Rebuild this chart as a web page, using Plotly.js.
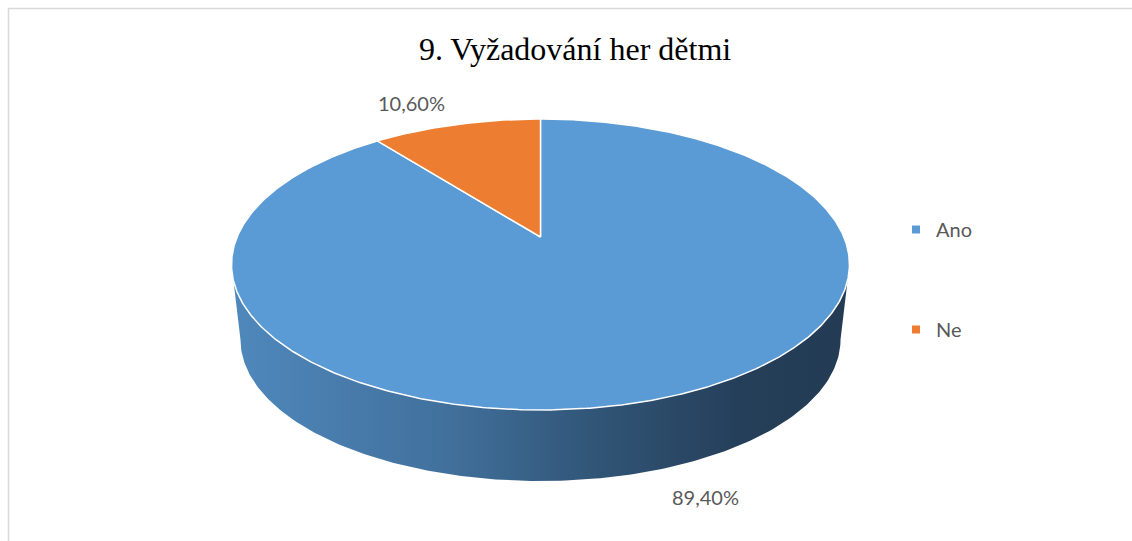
<!DOCTYPE html>
<html>
<head>
<meta charset="utf-8">
<script src="https://cdn.plot.ly/plotly-3.0.1.min.js"></script>
<style>html,body{margin:0;padding:0;background:#fff;}#chart{width:1132px;height:541px;}</style>
</head>
<body>
<div id="chart"></div>
<script>
// ---- data ----
const categories = ['Ano', 'Ne'];
const values = [89.4, 10.6];
const valueLabels = ['89,40%', '10,60%'];

// ---- style ----
const topColors = ['#5b9bd5', '#ed7d31'];
const sideScales = [
  [[0, '#4f88bc'], [0.35, '#41709c'], [0.6, '#305475'], [0.82, '#253f5a'], [1, '#233b53']],
  [[0, '#d06a25'], [1, '#8a4515']]
];

// projection of a tilted disc (perspective)
const CX = 540.5, CY = 237, A = 303.4, B = 140.3, K = 0.189;
const S_BOT = 0.971, H = 76;
function proj(thetaDeg, bottom) {
  const t = thetaDeg * Math.PI / 180;
  const s = Math.sin(t), c = Math.cos(t);
  let x = A * s / (1 + K * c), y = -B * c / (1 + K * c);
  if (bottom) { x *= S_BOT; y = y * S_BOT + H; }
  return [CX + x, CY + y];
}

const total = values.reduce((a, b) => a + b, 0);
const slices = [];
let acc = 0;
values.forEach((v, i) => {
  const a0 = acc / total * 360;
  acc += v;
  const a1 = acc / total * 360;
  slices.push([a0, a1]);
});

const traces = [];
// side walls (front visible part)
const visL = Math.acos(-K) * 180 / Math.PI;
const visR = 360 - visL;
slices.forEach(([a0, a1], i) => {
  const s0 = Math.max(a0, visL), s1 = Math.min(a1, visR);
  if (s1 <= s0) return;
  const xs = [], ys = [];
  const N = 200;
  for (let j = 0; j <= N; j++) { const p = proj(s0 + (s1 - s0) * j / N, false); xs.push(p[0]); ys.push(p[1]); }
  for (let j = N; j >= 0; j--) { const p = proj(s0 + (s1 - s0) * j / N, true); xs.push(p[0]); ys.push(p[1]); }
  traces.push({
    type: 'scatter', mode: 'lines', x: xs, y: ys, fill: 'toself',
    line: {width: 0, color: 'rgba(0,0,0,0)'},
    fillgradient: {type: 'horizontal', colorscale: sideScales[i]},
    hoverinfo: 'skip', showlegend: false
  });
});
// top faces
slices.forEach(([a0, a1], i) => {
  const xs = [CX], ys = [CY];
  const N = Math.max(20, Math.round((a1 - a0) * 2));
  for (let j = 0; j <= N; j++) { const p = proj(a0 + (a1 - a0) * j / N, false); xs.push(p[0]); ys.push(p[1]); }
  xs.push(CX); ys.push(CY);
  traces.push({
    type: 'scatter', mode: 'lines', x: xs, y: ys, fill: 'toself',
    fillcolor: topColors[i], line: {color: '#ffffff', width: 1.5},
    hoverinfo: 'skip', showlegend: false
  });
});
// legend entries
categories.forEach((c, i) => {
  traces.push({
    type: 'scatter', mode: 'markers', x: [null], y: [null], name: c,
    legendgroup: c, marker: {symbol: 'square', size: 8, color: topColors[i]}
  });
});

const labelPos = [[705, 497], [411, 103]];
const annotations = values.map((v, i) => ({
  x: labelPos[i][0], y: labelPos[i][1], xref: 'x', yref: 'y',
  text: valueLabels[i], showarrow: false,
  font: {family: 'Lato, "Open Sans", sans-serif', size: 20, color: '#595959'}
}));

const layout = {
  width: 1132, height: 541,
  margin: {l: 0, r: 0, t: 0, b: 0},
  paper_bgcolor: '#ffffff', plot_bgcolor: '#ffffff',
  title: {
    text: '9. Vyžadování her dětmi',
    font: {family: '"Liberation Serif", "Times New Roman", serif', size: 32, color: '#000000'},
    x: 0.508, xanchor: 'center', y: 1 - 49 / 541, yanchor: 'middle', yref: 'container'
  },
  xaxis: {range: [0, 1132], visible: false, fixedrange: true},
  yaxis: {range: [541, 0], visible: false, fixedrange: true},
  showlegend: true,
  legend: {
    x: 0.7915, y: 1 - 210 / 541, xanchor: 'left', yanchor: 'top',
    font: {family: 'Lato, "Open Sans", sans-serif', size: 20, color: '#595959'},
    tracegroupgap: 71, bgcolor: 'rgba(0,0,0,0)', itemwidth: 30
  },
  annotations: annotations,
  shapes: [{
    type: 'rect', xref: 'x', yref: 'y', x0: 8.5, y0: 8.5, x1: 1150, y1: 560,
    line: {color: '#d9d9d9', width: 1.5}, fillcolor: 'rgba(0,0,0,0)', layer: 'below'
  }]
};

Plotly.newPlot('chart', traces, layout, {displayModeBar: false, staticPlot: true});
</script>
</body>
</html>
